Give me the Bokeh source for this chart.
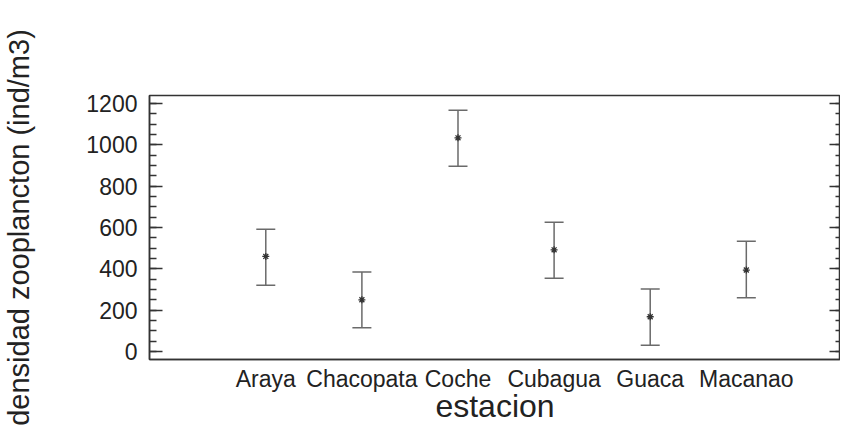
from bokeh.plotting import figure
from bokeh.models import ColumnDataSource, Whisker, TeeHead, Range1d, FixedTicker, LinearAxis, SingleIntervalTicker
from bokeh.embed import file_html
from bokeh.resources import INLINE

# data
stations = ["Araya", "Chacopata", "Coche", "Cubagua", "Guaca", "Macanao"]
means = [460, 250, 1034, 492, 168, 394]
lower = [320, 115, 896, 354, 30, 260]
upper = [592, 385, 1168, 626, 302, 533]
x_title = "estacion"
y_title = "densidad zooplancton (ind/m3)"

xpos = list(range(1, len(stations) + 1))
source = ColumnDataSource(dict(x=xpos, mean=means, lower=lower, upper=upper))

FONT = "Liberation Sans"
DARK = "#222222"
LINE = "#333333"
BAR = "#6a6a6a"

p = figure(width=840, height=426, output_backend="svg", toolbar_location=None,
           x_range=Range1d(-0.21, 6.98), y_range=Range1d(-39, 1239),
           min_border_left=0, min_border_right=0, min_border_top=95,
           min_border_bottom=0, background_fill_color="white",
           border_fill_color="white")
p.xgrid.visible = False
p.ygrid.visible = False
p.outline_line_color = LINE
p.outline_line_width = 1.5

# whiskers
wh = Whisker(base="x", upper="upper", lower="lower", source=source,
             line_color=BAR, line_width=1.5,
             upper_head=TeeHead(size=19, line_color=BAR, line_width=1.5),
             lower_head=TeeHead(size=19, line_color=BAR, line_width=1.5))
p.add_layout(wh)
p.scatter(x="x", y="mean", source=source, marker="asterisk", size=7,
          line_color=LINE, line_width=1.3)

# x axis
xa = p.xaxis[0]
xa.ticker = FixedTicker(ticks=xpos)
xa.major_label_overrides = {i: s for i, s in zip(xpos, stations)}
xa.major_tick_line_color = None
xa.minor_tick_line_color = None
xa.axis_line_color = LINE
xa.axis_line_width = 1.5
xa.major_label_text_font = FONT
xa.major_label_text_font_size = "23px"
xa.major_label_text_color = DARK
xa.major_label_standoff = 0
xa.axis_label = x_title
xa.axis_label_text_font = FONT
xa.axis_label_text_font_size = "32px"
xa.axis_label_text_font_style = "normal"
xa.axis_label_text_color = DARK
xa.axis_label_standoff = -7

# y axis
ya = p.yaxis[0]
ya.ticker = SingleIntervalTicker(interval=200, num_minor_ticks=4)
ya.major_tick_in = 13
ya.major_tick_out = 0
ya.minor_tick_in = 7
ya.minor_tick_out = 0
ya.major_tick_line_color = LINE
ya.minor_tick_line_color = LINE
ya.major_tick_line_width = 1.3
ya.minor_tick_line_width = 1.3
ya.axis_line_color = LINE
ya.axis_line_width = 1.5
ya.major_label_text_font = FONT
ya.major_label_text_font_size = "23px"
ya.major_label_text_color = DARK
ya.major_label_standoff = 12
ya.axis_label = y_title
ya.axis_label_text_font = FONT
ya.axis_label_text_font_size = "29px"
ya.axis_label_text_font_style = "normal"
ya.axis_label_text_color = DARK
ya.axis_label_standoff = 48

# right axis with inward ticks only (labels not drawn)
ra = LinearAxis(ticker=SingleIntervalTicker(interval=200, num_minor_ticks=4))
ra.major_tick_in = 11
ra.major_tick_out = 0
ra.minor_tick_in = 5
ra.minor_tick_out = 0
ra.major_tick_line_color = LINE
ra.minor_tick_line_color = LINE
ra.major_tick_line_width = 1.3
ra.minor_tick_line_width = 1.3
ra.axis_line_color = None
ra.major_label_text_font_size = "1px"
ra.major_label_text_color = None
ra.major_label_standoff = 0
p.add_layout(ra, "right")

open("out.html", "w").write(file_html(p, INLINE))
